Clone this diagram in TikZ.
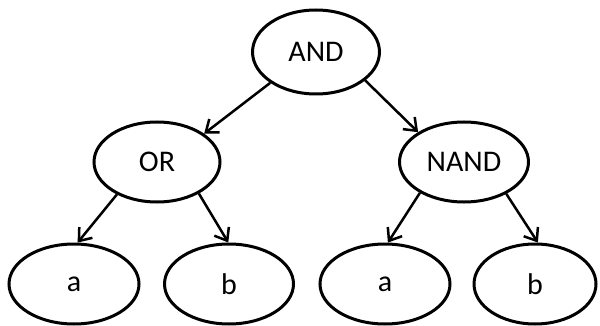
\documentclass[tikz,border=0pt]{standalone}
\usepackage{fontspec}
\setmainfont{Carlito}
\usetikzlibrary{shapes.geometric,arrows.meta}
\begin{document}
\begin{tikzpicture}[x=1pt,y=-1pt,
  gate/.style={ellipse,draw,line width=3pt,inner sep=0pt,minimum width=126pt,minimum height=80pt,font=\fontsize{30}{36}\selectfont},
  conn/.style={line width=2.5pt,-{Straight Barb[length=11pt,width=17pt,line width=2.5pt]}}]
\useasboundingbox (0,0) rectangle (600,326);
\node[gate,minimum width=127pt,minimum height=84pt] (and) at (316,52) {AND};
\node[gate] (or) at (157,162) {OR};
\node[gate,minimum width=129pt] (nand) at (464,162) {NAND};
\node[gate,minimum width=130pt] (a1) at (74,284) {a};
\node[gate,minimum width=129pt] (b1) at (229,284) {b};
\node[gate,minimum width=130pt] (a2) at (385,284) {a};
\node[gate,minimum width=122pt] (b2) at (535,284) {b};
\draw[conn] (and.214) -- (or.31);
\draw[conn] (and.330) -- (nand.147);
\draw[conn] (or.219) -- (a1.85);
\draw[conn] (or.323) -- (b1.91);
\draw[conn] (nand.215) -- (a2.86);
\draw[conn] (nand.323) -- (b2.86);
\end{tikzpicture}
\end{document}
